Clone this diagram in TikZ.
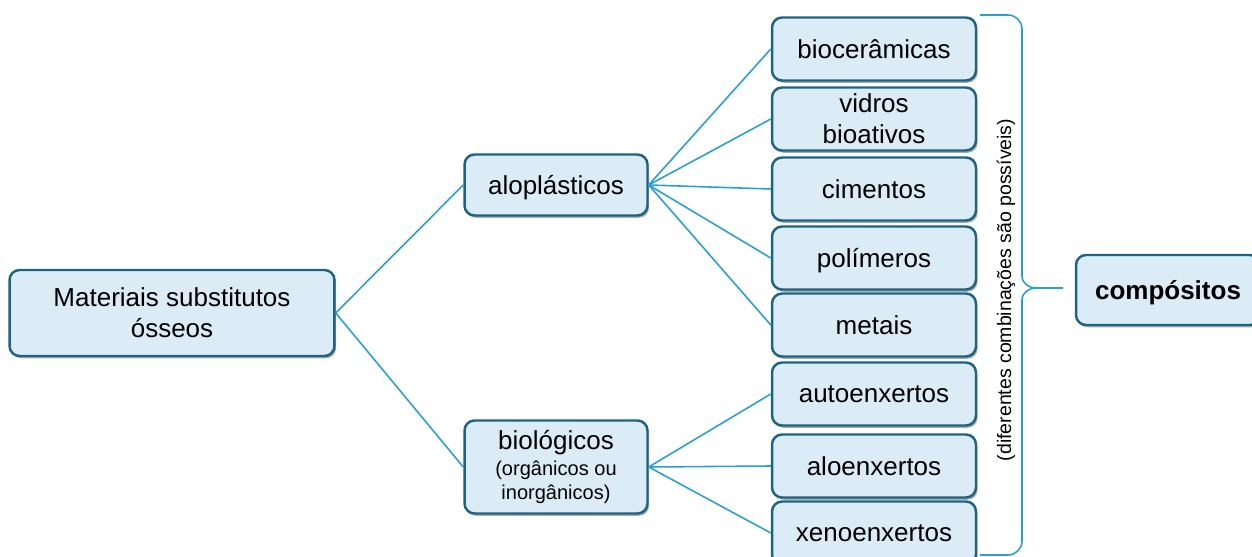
\documentclass[tikz,border=0pt]{standalone}
\usepackage{fontspec}
\setmainfont{Liberation Sans}
\usetikzlibrary{shadows}
\definecolor{boxfill}{RGB}{219,236,247}
\definecolor{boxline}{RGB}{28,100,130}
\definecolor{linkcol}{RGB}{40,160,212}
\newcommand{\subfont}{\fontsize{11.4}{13.5}\selectfont}

\begin{document}
\begin{tikzpicture}[x=0.02cm,y=-0.02cm,
  box/.style={draw=boxline,line width=1.4pt,fill=boxfill,rounded corners=0.2cm,
    align=center,inner sep=0pt,font=\fontsize{14.8}{17.5}\selectfont,
    drop shadow={shadow xshift=0.9pt,shadow yshift=-1.3pt,fill=black!55,opacity=0.6}},
  leaf/.style={box,minimum width=4.08cm,minimum height=1.26cm},
  link/.style={draw=linkcol,line width=0.9pt}]
\useasboundingbox (0,0) rectangle (1252,557);

% tree
\node[box,minimum width=6.5cm,minimum height=1.72cm] (root) at (172,313) {Materiais substitutos\\ósseos};
\node[box,minimum width=3.66cm,minimum height=1.22cm,text depth=0pt] (alo) at (556,185) {aloplásticos};
\node[box,minimum width=3.66cm,minimum height=1.86cm] (bio) at (556,467)
  {biológicos\\[-3pt]\subfont(orgânicos ou\\[-4pt]\subfont inorgânicos)};

\node[leaf] (bioc) at (874,49) {biocerâmicas};
\node[leaf] (vid) at (874,119) {vidros\\bioativos};
\node[leaf] (cim) at (874,189) {cimentos};
\node[leaf,text depth=0pt] (pol) at (874,258) {polímeros};
\node[leaf] (met) at (874,325) {metais};
\node[leaf] (auto) at (874,394) {autoenxertos};
\node[leaf] (aloe) at (874,466) {aloenxertos};
\node[leaf] (xeno) at (874,533) {xenoenxertos};

\node[box,minimum width=3.68cm,minimum height=1.4cm,text depth=0pt] (comp) at (1168,290) {\textbf{compósitos}};

\draw[link] (root.east)--(alo.west);
\draw[link] (root.east)--(bio.west);
\draw[link] (alo.east)--(bioc.west);
\draw[link] (alo.east)--(vid.west);
\draw[link] (alo.east)--(cim.west);
\draw[link] (alo.east)--(pol.west);
\draw[link] (alo.east)--(met.west);
\draw[link] (bio.east)--(auto.west);
\draw[link] (bio.east)--(aloe.west);
\draw[link] (bio.east)--(xeno.west);

% brace
\draw[linkcol,line width=0.9pt] (980,15)--(1008,15) to[out=0,in=90] (1022,29)--(1022,276)
  to[out=-90,in=180] (1036,288)--(1063,288);
\draw[linkcol,line width=0.9pt] (1036,288) to[out=180,in=90] (1022,300)--(1022,541)
  to[out=-90,in=0] (1008,555)--(980,555);
\node[rotate=90,font=\fontsize{11.1}{13}\selectfont] (note) at (1006,290) {(diferentes combinações são possíveis)};

\end{tikzpicture}
\end{document}
